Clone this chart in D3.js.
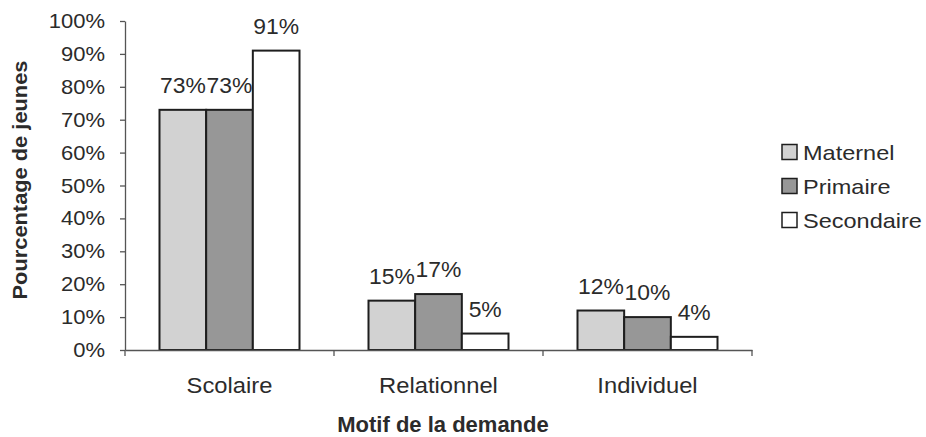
<!DOCTYPE html>
<html><head><meta charset="utf-8">
<script src="https://cdn.jsdelivr.net/npm/d3@7"></script>
<style>body{margin:0;background:#fff;} text{font-family:"Liberation Sans",Arial,sans-serif;fill:#2b2b2b;}</style>
</head><body>
<svg id="c" width="926" height="437"></svg>
<script>
const categories = ["Scolaire", "Relationnel", "Individuel"];
const seriesNames = ["Maternel", "Primaire", "Secondaire"];
const maternel = [73, 15, 12];
const primaire = [73, 17, 10];
const secondaire = [91, 5, 4];
const yTicks = [0,10,20,30,40,50,60,70,80,90,100];
const colors = ["#d2d2d2", "#979797", "#ffffff"];

const series = [maternel, primaire, secondaire];
const svg = d3.select("#c");
const x0 = d3.scaleBand().domain(categories).range([125, 752]).paddingInner(0).paddingOuter(0);
const x1 = d3.scaleBand().domain(seriesNames).range([0, 140]);
const y = d3.scaleLinear().domain([0, 100]).range([350, 21]);
const bandPad = (x0.bandwidth() - 140) / 2;

function stxt(parent, x, yy, str, size, sx, anchor, weight) {
  return parent.append("text")
    .attr("transform", `translate(${x},${yy}) scale(${sx},1)`)
    .attr("text-anchor", anchor || "start")
    .attr("font-size", size)
    .attr("font-weight", weight || "normal")
    .text(str);
}

// Y axis
const yAxis = svg.append("g").attr("transform", "translate(125,0)")
  .call(d3.axisLeft(y).tickValues(yTicks).tickFormat("").tickSize(5).tickSizeOuter(0));
yAxis.select(".domain").attr("stroke", "#555").attr("stroke-width", 1.3);
yAxis.selectAll(".tick line").attr("stroke", "#555").attr("stroke-width", 1.3);
const yl = svg.append("g");
yTicks.forEach(t => stxt(yl, 105, y(t) + 7, t + "%", 20, 1.1, "end"));

// bars
const g = svg.append("g");
categories.forEach((c, ci) => {
  seriesNames.forEach((s, si) => {
    const v = series[si][ci];
    const bx = x0(c) + bandPad + x1(s);
    g.append("rect").attr("x", bx).attr("y", y(v)).attr("width", x1.bandwidth()).attr("height", y(0) - y(v))
      .attr("fill", colors[si]).attr("stroke", "#1e1e1e").attr("stroke-width", 2);
    stxt(g, bx + x1.bandwidth() / 2, y(v) - 17, v + "%", 22, 1.04, "middle");
  });
});

// X axis
const xAxis = svg.append("g").attr("transform", "translate(0,350)")
  .call(d3.axisBottom(x0).tickSize(0).tickFormat(""));
xAxis.select(".domain").attr("stroke", "#555").attr("stroke-width", 1.3);
const xl = svg.append("g");
categories.forEach(c => stxt(xl, x0(c) + x0.bandwidth() / 2, 393, c, 22, 1.08, "middle"));
// boundary ticks
const bounds = [x0.range()[0]].concat(categories.map(c => x0(c) + x0.bandwidth()));
svg.append("g").selectAll("line").data(bounds).join("line")
  .attr("x1", d => d).attr("x2", d => d).attr("y1", 350).attr("y2", 356)
  .attr("stroke", "#555").attr("stroke-width", 1.3);

// Axis titles
stxt(svg, 443, 432, "Motif de la demande", 22, 1.0, "middle", "bold");
svg.append("text").attr("transform", "translate(27,180) rotate(-90) scale(1.04,1)").attr("text-anchor", "middle")
  .attr("font-size", 21).attr("font-weight", "bold").text("Pourcentage de jeunes");

// Legend
const leg = svg.append("g");
seriesNames.forEach((s, i) => {
  const cy = 152 + i * 34;
  leg.append("rect").attr("x", 782).attr("y", cy - 7.5).attr("width", 15).attr("height", 15)
    .attr("fill", colors[i]).attr("stroke", "#1e1e1e").attr("stroke-width", 1.5);
  stxt(leg, 803, cy + 7.5, s, 21, 1.12, "start");
});
</script>
</body></html>
